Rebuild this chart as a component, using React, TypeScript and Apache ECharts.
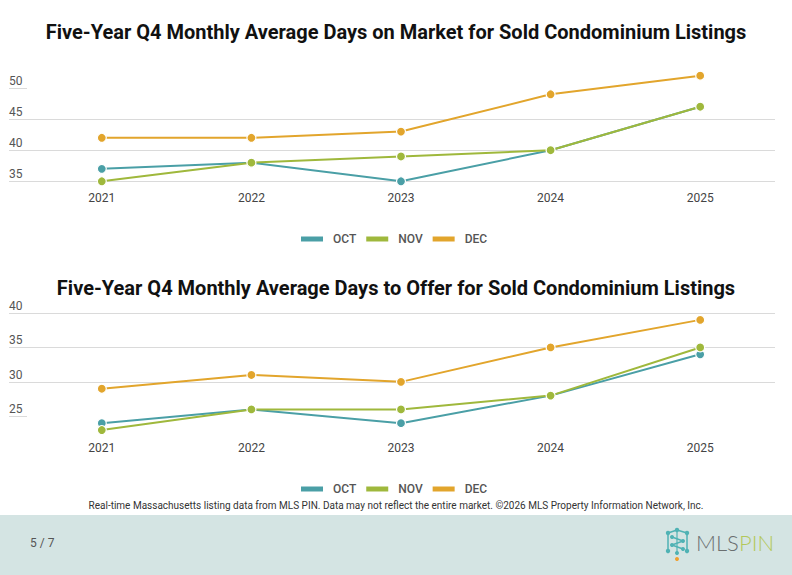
import React, { useEffect, useRef } from "react";
import * as echarts from "echarts";

const years = ["2021", "2022", "2023", "2024", "2025"];
const seriesNames = ["OCT", "NOV", "DEC"];
const colors = ["#4a9fa6", "#9fb83c", "#e2a52c"];

const domOct = [37, 38, 35, 40, 47];
const domNov = [35, 38, 39, 40, 47];
const domDec = [42, 42, 43, 49, 52];

const dtoOct = [24, 26, 24, 28, 34];
const dtoNov = [23, 26, 26, 28, 35];
const dtoDec = [29, 31, 30, 35, 39];

const topTicks = [35, 40, 45, 50];
const bottomTicks = [25, 30, 35, 40];

const titleTop = "Five-Year Q4 Monthly Average Days on Market for Sold Condominium Listings";
const titleBottom = "Five-Year Q4 Monthly Average Days to Offer for Sold Condominium Listings";
const footnote =
  "Real-time Massachusetts listing data from MLS PIN. Data may not reflect the entire market. ©2026 MLS Property Information Network, Inc.";

const FONT = "Roboto, 'Noto Sans', sans-serif";
const GRID_COLOR = "#dadada";

export default function App() {
  const ref = useRef<HTMLDivElement>(null);

  useEffect(() => {
    if (!ref.current) return;
    const chart = echarts.init(ref.current, null, { renderer: "svg" });

    const mkY = (gridIndex: number, min: number, max: number, ticks: number[], hideMin: boolean) => ({
      type: "value",
      gridIndex,
      min,
      max,
      interval: 5,
      axisLine: { show: false },
      axisTick: {
        show: true,
        inside: false,
        length: 18,
        customValues: ticks,
        lineStyle: { color: GRID_COLOR, width: 1 },
      },
      splitLine: {
        show: true,
        showMinLine: !hideMin,
        showMaxLine: hideMin,
        lineStyle: { color: GRID_COLOR, width: 1 },
      },
      axisLabel: {
        customValues: ticks,
        inside: false,
        align: "left",
        verticalAlign: "bottom",
        margin: 18,
        padding: [0, 0, 1, 0],
        color: "#555",
        fontSize: 12,
        fontFamily: FONT,
      },
    });

    const mkX = (gridIndex: number, offset: number) => ({
      type: "category",
      gridIndex,
      data: years,
      boundaryGap: true,
      offset,
      axisLine: { show: false },
      axisTick: { show: false },
      axisLabel: { color: "#444", fontSize: 12, fontFamily: FONT, margin: 11 },
    });

    const mkSeries = (name: string, data: number[], idx: number, axis: number) => ({
      name,
      type: "line",
      xAxisIndex: axis,
      yAxisIndex: axis,
      data,
      symbol: "circle",
      symbolSize: 9,
      lineStyle: { width: 2, color: colors[idx] },
      itemStyle: { color: colors[idx], borderColor: "#fff", borderWidth: 1.2 },
      emphasis: { disabled: true },
      z: 2 + idx,
    });

    const legendBase = {
      data: seriesNames.map((n, i) => ({
        name: n,
        icon: "rect",
        itemStyle: { color: colors[i], borderWidth: 0 },
      })),
      itemWidth: 22,
      itemHeight: 5,
      itemGap: 10,
      left: 296,
      textStyle: { color: "#555", fontSize: 12, fontFamily: FONT, fontWeight: 500, padding: [0, 0, 0, 5] },
    };

    chart.setOption({
      animation: false,
      backgroundColor: "#ffffff",
      title: [
        {
          text: titleTop,
          left: "center",
          top: 17,
          textStyle: { fontFamily: FONT, fontSize: 20, fontWeight: "bold", color: "#111" },
        },
        {
          text: titleBottom,
          left: "center",
          top: 273,
          textStyle: { fontFamily: FONT, fontSize: 20, fontWeight: "bold", color: "#111" },
        },
      ],
      legend: [
        { ...legendBase, top: 228 },
        { ...legendBase, top: 478 },
      ],
      grid: [
        { left: 27, right: 17, top: 57, height: 124.3 },
        { left: 27, right: 17, top: 313, height: 137.7 },
      ],
      xAxis: [mkX(0, 0), mkX(1, -19.4)],
      yAxis: [mkY(0, 35, 55, topTicks, false), mkY(1, 20, 40, bottomTicks, true)],
      series: [
        mkSeries("OCT", domOct, 0, 0),
        mkSeries("NOV", domNov, 1, 0),
        mkSeries("DEC", domDec, 2, 0),
        mkSeries("OCT", dtoOct, 0, 1),
        mkSeries("NOV", dtoNov, 1, 1),
        mkSeries("DEC", dtoDec, 2, 1),
      ],
      graphic: [
        {
          type: "text",
          left: "center",
          top: 500,
          style: { text: footnote, fill: "#333", fontSize: 10, fontFamily: FONT },
        },
        {
          type: "rect",
          shape: { x: 0, y: 515, width: 792, height: 60 },
          style: { fill: "#d4e4e3" },
          silent: true,
        },
        {
          type: "text",
          x: 30,
          y: 537,
          style: { text: "5 / 7", fill: "#555", fontSize: 12, fontFamily: FONT },
        },
        {
          type: "group",
          x: 665,
          y: 529,
          children: [
            { type: "line", shape: { x1: 3, y1: 4, x2: 12, y2: 1 }, style: { stroke: "#4fb2b4", lineWidth: 1.5 } },
            { type: "line", shape: { x1: 12, y1: 1, x2: 22, y2: 4 }, style: { stroke: "#4fb2b4", lineWidth: 1.5 } },
            { type: "line", shape: { x1: 3, y1: 4, x2: 3, y2: 22 }, style: { stroke: "#4fb2b4", lineWidth: 1.5 } },
            { type: "line", shape: { x1: 22, y1: 4, x2: 22, y2: 22 }, style: { stroke: "#4fb2b4", lineWidth: 1.5 } },
            { type: "line", shape: { x1: 7, y1: 8, x2: 18, y2: 12 }, style: { stroke: "#4fb2b4", lineWidth: 1.5 } },
            { type: "line", shape: { x1: 18, y1: 12, x2: 7, y2: 16 }, style: { stroke: "#4fb2b4", lineWidth: 1.5 } },
            { type: "line", shape: { x1: 7, y1: 16, x2: 18, y2: 20 }, style: { stroke: "#4fb2b4", lineWidth: 1.5 } },
            { type: "line", shape: { x1: 12, y1: 1, x2: 12, y2: 24 }, style: { stroke: "#4fb2b4", lineWidth: 1.2 } },
            { type: "circle", shape: { cx: 3, cy: 4, r: 2.2 }, style: { fill: "#4fb2b4" } },
            { type: "circle", shape: { cx: 12, cy: 1, r: 2.2 }, style: { fill: "#4fb2b4" } },
            { type: "circle", shape: { cx: 22, cy: 4, r: 2.2 }, style: { fill: "#4fb2b4" } },
            { type: "circle", shape: { cx: 7, cy: 8, r: 2 }, style: { fill: "#4fb2b4" } },
            { type: "circle", shape: { cx: 18, cy: 12, r: 2 }, style: { fill: "#4fb2b4" } },
            { type: "circle", shape: { cx: 7, cy: 16, r: 2 }, style: { fill: "#4fb2b4" } },
            { type: "circle", shape: { cx: 18, cy: 20, r: 2 }, style: { fill: "#4fb2b4" } },
            { type: "circle", shape: { cx: 3, cy: 22, r: 2.2 }, style: { fill: "#4fb2b4" } },
            { type: "circle", shape: { cx: 22, cy: 22, r: 2.2 }, style: { fill: "#4fb2b4" } },
            { type: "circle", shape: { cx: 12, cy: 24, r: 2 }, style: { fill: "#4fb2b4" } },
            { type: "circle", shape: { cx: 12, cy: 30, r: 2 }, style: { fill: "#f0a030" } },
          ],
        },
        {
          type: "text",
          x: 696,
          y: 531,
          style: { text: "MLS", fill: "#6a6f70", fontSize: 22, fontFamily: "Lato, Roboto, sans-serif", fontWeight: 300 },
        },
        {
          type: "text",
          x: 739,
          y: 531,
          style: { text: "PIN", fill: "#b3c85a", fontSize: 22, fontFamily: "Lato, Roboto, sans-serif", fontWeight: 300 },
        },
      ],
    });

    return () => chart.dispose();
  }, []);

  return (
    <div
      ref={ref}
      style={{ position: "fixed", left: 0, top: 0, width: 792, height: 575 }}
    />
  );
}
